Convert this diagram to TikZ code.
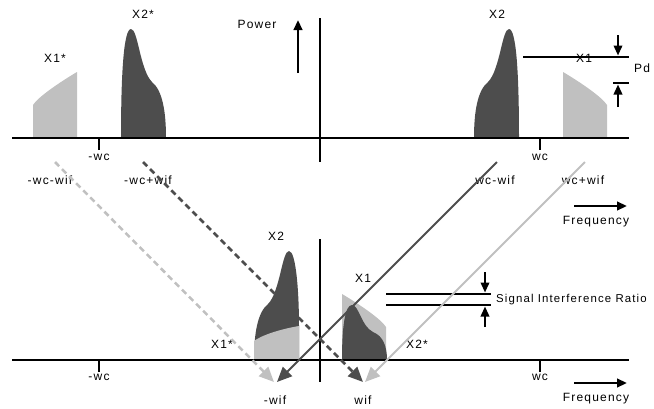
\documentclass[tikz,border=0pt]{standalone}
\usepackage{fontspec}
\setmainfont{Liberation Sans}[LetterSpace=10]
\usetikzlibrary{arrows.meta}

\definecolor{darkgr}{HTML}{4D4D4D}
\definecolor{lightgr}{HTML}{C0C0C0}

\begin{document}
\begin{tikzpicture}[
x=1pt, y=-1pt,
lbl/.style={inner sep=0pt, font=\fontsize{12}{14}\selectfont},
axis/.style={line width=2.5pt},
arrow/.style={-{Triangle[length=10pt, width=8.5pt]}, line width=2.5pt},
mapline/.style={-{Triangle[length=15pt, width=13pt]}, line width=2pt},
dashline/.style={mapline, line width=2.5pt, dash pattern=on 6pt off 4pt}
]
\useasboundingbox (0,0) rectangle (654,408);

% top spectrum
\fill[lightgr] (33,138) -- (33,105) .. controls (38,97) and (60,82) .. (77,72) -- (77,138) -- cycle;
\fill[darkgr] (121,138) .. controls (121,70) and (124,29) .. (131,29) .. controls (138,29) and (140,70) .. (152,82) .. controls (162,90) and (166,110) .. (166,138) -- cycle;
\fill[darkgr] (519,138) .. controls (519,70) and (516,29) .. (509,29) .. controls (502,29) and (500,70) .. (488,82) .. controls (478,90) and (474,110) .. (474,138) -- cycle;
\fill[lightgr] (607,138) -- (607,105) .. controls (602,97) and (580,82) .. (563,72) -- (563,138) -- cycle;

\draw[axis] (12,138) -- (629,138);
\draw[axis] (320,18) -- (320,162);
\draw[axis] (99,138) -- (99,150);
\draw[axis] (540,138) -- (540,150);

\node[lbl] (x2s) at (143,14) {X2*};
\node[lbl] (x1s) at (55,58) {X1*};
\node[lbl] (x2) at (497,14) {X2};
\node[lbl] (power) at (257,24) {Power};
\node[lbl] (mwc) at (99,157) {-wc};
\node[lbl] (wc) at (540,157) {wc};
\node[lbl] (mwcmwif) at (50,180) {-wc-wif};
\node[lbl] (mwcpwif) at (148,180) {-wc+wif};
\node[lbl] (wcmwif) at (495,180) {wc-wif};
\node[lbl] (wcpwif) at (583,180) {wc+wif};

\coordinate (pwrlo) at (298,73);
\coordinate (pwrhi) at (298,20);
\draw[arrow] (pwrlo) -- (pwrhi);

% power difference
\draw[axis] (523,57) -- (629,57);
\draw[axis] (613,83) -- (629,83);
\node[lbl] (x1) at (584,58) {X1};
\node[lbl] (pd) at (642,68) {Pd};
\coordinate (pdtop) at (618,35);
\coordinate (pdbot) at (618,107);
\draw[arrow, line width=2pt] (pdtop) -- (618,55.5);
\draw[arrow, line width=2pt] (pdbot) -- (618,84.5);

% frequency arrows
\coordinate (ftop0) at (574,206);
\coordinate (ftop1) at (627,206);
\draw[arrow] (ftop0) -- (ftop1);
\node[lbl] (freqtop) at (596,222) {Frequency};

% bottom spectrum
\fill[darkgr] (299,360) -- (299,326) .. controls (299,292) and (296,251) .. (289,251) .. controls (282,251) and (280,292) .. (268,304) .. controls (258,312) and (254,332) .. (254,360) -- cycle;
\fill[lightgr] (254,360) -- (254,341) .. controls (262,335) and (281,329) .. (299,326) -- (299,360) -- cycle;
\fill[lightgr] (386,360) -- (386,327) .. controls (381,319) and (359,304) .. (342,294) -- (342,360) -- cycle;
\fill[darkgr] (342,360) .. controls (342,326) and (345,305) .. (352,305) .. controls (359,305) and (361,326) .. (373,332) .. controls (383,336) and (387,346) .. (387,360) -- cycle;

\draw[axis] (12,360) -- (629,360);
\draw[axis] (320,239) -- (320,382);
\draw[axis] (99,360) -- (99,372);
\draw[axis] (540,360) -- (540,372);

\node[lbl] (bx2) at (276,236) {X2};
\node[lbl] (bx1s) at (222,344) {X1*};
\node[lbl] (bx1) at (363,278) {X1};
\node[lbl] (bx2s) at (417,344) {X2*};
\node[lbl] (bmwc) at (99,377) {-wc};
\node[lbl] (bwc) at (540,377) {wc};
\node[lbl] (mwif) at (275,400) {-wif};
\node[lbl] (wif) at (363,400) {wif};

\coordinate (fbot0) at (574,383);
\coordinate (fbot1) at (627,383);
\draw[arrow] (fbot0) -- (fbot1);
\node[lbl] (freqbot) at (596,399) {Frequency};

% signal interference ratio
\draw[axis] (386,294) -- (491,294);
\draw[axis] (386,305) -- (491,305);
\coordinate (sirtop) at (485,272);
\coordinate (sirbot) at (485,327);
\draw[arrow, line width=2pt] (sirtop) -- (485,292.5);
\draw[arrow, line width=2pt] (sirbot) -- (485,306.5);
\node[lbl, anchor=west, font=\fontsize{11.4}{14}\selectfont] (sir) at (496,300) {Signal Interference Ratio};

% frequency translation
\coordinate (s1) at (55,162);
\coordinate (e1) at (274,382);
\coordinate (s2) at (143,162);
\coordinate (e2) at (363,382);
\coordinate (s3) at (497,162);
\coordinate (e3) at (277,382);
\coordinate (s4) at (585,162);
\coordinate (e4) at (365,382);
\draw[dashline, lightgr] (s1) -- (e1);
\draw[dashline, darkgr] (s2) -- (e2);
\draw[mapline, darkgr] (s3) -- (e3);
\draw[mapline, lightgr] (s4) -- (e4);
\end{tikzpicture}
\end{document}
